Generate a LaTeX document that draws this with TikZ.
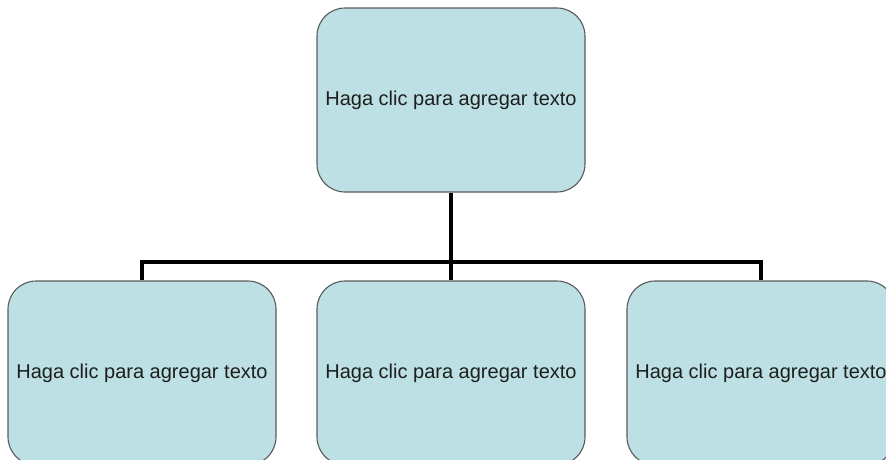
\documentclass[tikz,border=0pt]{standalone}
\usepackage{fontspec}
\setmainfont{Liberation Sans}
\definecolor{boxfill}{HTML}{BCE0E3}
\definecolor{boxline}{HTML}{5A5A5A}
\definecolor{txt}{HTML}{1E1E1E}
\begin{document}
\begin{tikzpicture}[x=1pt,y=-1pt,
  orgbox/.style={draw=boxline,line width=1.1pt,fill=boxfill,rounded corners=28pt,
    minimum width=268pt,minimum height=184pt,inner sep=0pt,
    font=\fontsize{20pt}{24pt}\selectfont,text=txt},
  conn/.style={line width=3.6pt,black}]
\useasboundingbox (0,0) rectangle (886,459);
\node[orgbox] (top) at (451,100) {Haga clic para agregar texto};
\node[orgbox] (left) at (142,373) {Haga clic para agregar texto};
\node[orgbox] (mid) at (451,373) {Haga clic para agregar texto};
\node[orgbox] (right) at (761,373) {Haga clic para agregar texto};
\coordinate (j) at (451,262);
\draw[conn] (top.south) -- (mid.north);
\draw[conn] (left.north) |- (j) -| (right.north);
\end{tikzpicture}
\end{document}
